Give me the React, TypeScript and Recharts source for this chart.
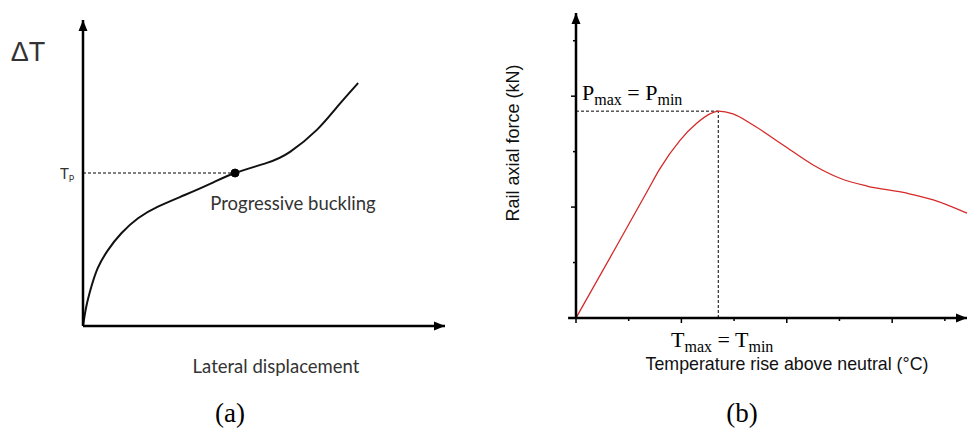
import type { CSSProperties } from 'react';
import { LineChart, Line, XAxis, YAxis, ReferenceLine, ReferenceDot } from 'recharts';

// (a) lateral displacement vs temperature rise, arbitrary units 0..100
const displacement = [0, 0.9, 2.3, 4.1, 6.9, 10.6, 15.2, 20.7, 28.1, 35.4, 42.0, 50.8, 57.2, 64.6, 70.2, 76.0];
const deltaT = [0, 6.3, 12.8, 19.0, 24.8, 30.3, 35.2, 39.0, 42.8, 46.6, 50.0, 53.3, 56.9, 64.1, 71.6, 79.4];
const tpX = 42;
const tpY = 50;

// (b) rail axial force vs temperature rise, in tick units
const tempRise = [0, 0.76, 1.36, 1.59, 1.97, 2.29, 2.54, 2.7, 2.98, 3.36, 3.93, 4.5, 5.01, 5.52, 6.28, 6.78, 7.42];
const axialForce = [0, 1.28, 2.3, 2.69, 3.2, 3.51, 3.68, 3.73, 3.68, 3.48, 3.12, 2.76, 2.52, 2.38, 2.25, 2.13, 1.89];
const peakT = 2.7;
const peakP = 3.73;
const tempTicks = [0, 1, 2, 3, 4, 5, 6, 7];
const forceTicks = [0, 1, 2, 3, 4, 5];

const buckleData = displacement.map((x, i) => ({ x, y: deltaT[i] }));
const forceData = tempRise.map((x, i) => ({ x, y: axialForce[i] }));

type Pt = { cx?: number; cy?: number };

function ArrowRight({ cx = 0, cy = 0 }: Pt) {
  return <polygon points={`${cx},${cy} ${cx - 11},${cy - 4.5} ${cx - 11},${cy + 4.5}`} fill="#000" />;
}

function ArrowUp({ cx = 0, cy = 0 }: Pt) {
  return <polygon points={`${cx},${cy} ${cx - 4.5},${cy + 11} ${cx + 4.5},${cy + 11}`} fill="#000" />;
}

type TickProps = { x?: number; y?: number; index?: number };

function XTick({ x = 0, y = 0, index = 0 }: TickProps) {
  const len = index % 2 === 0 ? 5 : 3;
  return <line x1={x} x2={x} y1={y} y2={y + len} stroke="#000" strokeWidth={1.5} />;
}

function YTick({ x = 0, y = 0, index = 0 }: TickProps) {
  const len = index % 2 === 0 ? 5 : 3;
  return <line x1={x - len} x2={x} y1={y} y2={y} stroke="#000" strokeWidth={1.5} />;
}

const abs = (left: number, top: number, extra: CSSProperties = {}): CSSProperties => ({
  position: 'absolute',
  left,
  top,
  lineHeight: 1,
  whiteSpace: 'nowrap',
  ...extra,
});

const centered = (left: number, top: number, extra: CSSProperties = {}): CSSProperties =>
  abs(left, top, { transform: 'translate(-50%, -50%)', ...extra });

const sansA = { fontFamily: 'Lato, "Open Sans", sans-serif', color: '#333' };
const arial = { fontFamily: '"Liberation Sans", Arial, sans-serif', color: '#111' };
const serif = { fontFamily: '"Liberation Serif", "Times New Roman", serif', color: '#000' };
const sub: CSSProperties = { fontSize: 16, position: 'relative', top: 5 };
const axisStyle = { stroke: '#000', strokeWidth: 2.5 };

export default function App() {
  return (
    <div style={{ position: 'absolute', left: 0, top: 0, width: 969, height: 438, background: '#fff', overflow: 'hidden' }}>
      <div style={{ position: 'absolute', left: 0, top: 0 }}>
        <LineChart width={480} height={340} data={buckleData} margin={{ top: 20, right: 35, bottom: 4, left: 73 }}>
          <XAxis type="number" dataKey="x" domain={[0, 100]} height={10} tick={false} tickLine={false} axisLine={axisStyle} />
          <YAxis type="number" domain={[0, 100]} width={10} tick={false} tickLine={false} axisLine={axisStyle} />
          <ReferenceLine segment={[{ x: 0, y: tpY }, { x: tpX, y: tpY }]} stroke="#000" strokeDasharray="3 2" strokeWidth={1} />
          <Line type="natural" dataKey="y" stroke="#111" strokeWidth={2} dot={false} isAnimationActive={false} />
          <ReferenceDot x={tpX} y={tpY} r={4} fill="#000" stroke="#000" />
          <ReferenceDot x={100} y={0} shape={ArrowRight} />
          <ReferenceDot x={0} y={100} shape={ArrowUp} />
        </LineChart>
      </div>

      <div style={{ position: 'absolute', left: 500, top: 0 }}>
        <LineChart width={469} height={340} data={forceData} margin={{ top: 13, right: 2, bottom: 12, left: 66 }}>
          <XAxis type="number" dataKey="x" domain={[0, 7.42]} ticks={tempTicks} height={10} tickLine={false}
            tickSize={0} tickMargin={0} tick={XTick} axisLine={axisStyle} />
          <YAxis type="number" domain={[0, 5.5]} ticks={forceTicks} width={10} tickLine={false}
            tickSize={0} tickMargin={0} tick={YTick} axisLine={axisStyle} />
          <ReferenceLine segment={[{ x: -0.15, y: 0 }, { x: 0, y: 0 }]} ifOverflow="visible" stroke="#000" strokeWidth={2.5} />
          <ReferenceLine segment={[{ x: 0, y: peakP }, { x: peakT, y: peakP }]} stroke="#000" strokeDasharray="3 2" strokeWidth={1} />
          <ReferenceLine segment={[{ x: peakT, y: 0 }, { x: peakT, y: peakP }]} stroke="#000" strokeDasharray="3 2" strokeWidth={1} />
          <Line type="monotone" dataKey="y" stroke="#d42a2a" strokeWidth={1.3} dot={false} isAnimationActive={false} />
          <ReferenceDot x={7.42} y={0} shape={ArrowRight} />
          <ReferenceDot x={0} y={5.5} shape={ArrowUp} />
        </LineChart>
      </div>

      {/* (a) labels */}
      <div style={centered(28, 52, { ...sansA, fontFamily: '"Liberation Sans", Arial, sans-serif', fontSize: 27 })}>ΔT</div>
      <div style={abs(60, 166, { ...sansA, fontSize: 15 })}>
        T<span style={{ fontSize: 9, position: 'relative', top: 3 }}>P</span>
      </div>
      <div style={centered(293, 203, { ...sansA, fontSize: 18.5 })}>Progressive buckling</div>
      <div style={centered(276, 366, { ...sansA, fontSize: 18.5 })}>Lateral displacement</div>
      <div style={centered(230, 413, { ...serif, fontSize: 27 })}>(a)</div>

      {/* (b) labels */}
      <div style={centered(513, 143, { ...arial, fontSize: 18, transform: 'translate(-50%, -50%) rotate(-90deg)' })}>
        Rail axial force (kN)
      </div>
      <div style={abs(582, 81.6, { ...serif, fontSize: 22 })}>
        P<span style={sub}>max</span> = P<span style={sub}>min</span>
      </div>
      <div style={abs(671, 328.6, { ...serif, fontSize: 22 })}>
        T<span style={sub}>max</span> = T<span style={sub}>min</span>
      </div>
      <div style={centered(787, 365, { ...arial, fontSize: 17.8 })}>Temperature rise above neutral (°C)</div>
      <div style={centered(742, 413, { ...serif, fontSize: 27 })}>(b)</div>
    </div>
  );
}
